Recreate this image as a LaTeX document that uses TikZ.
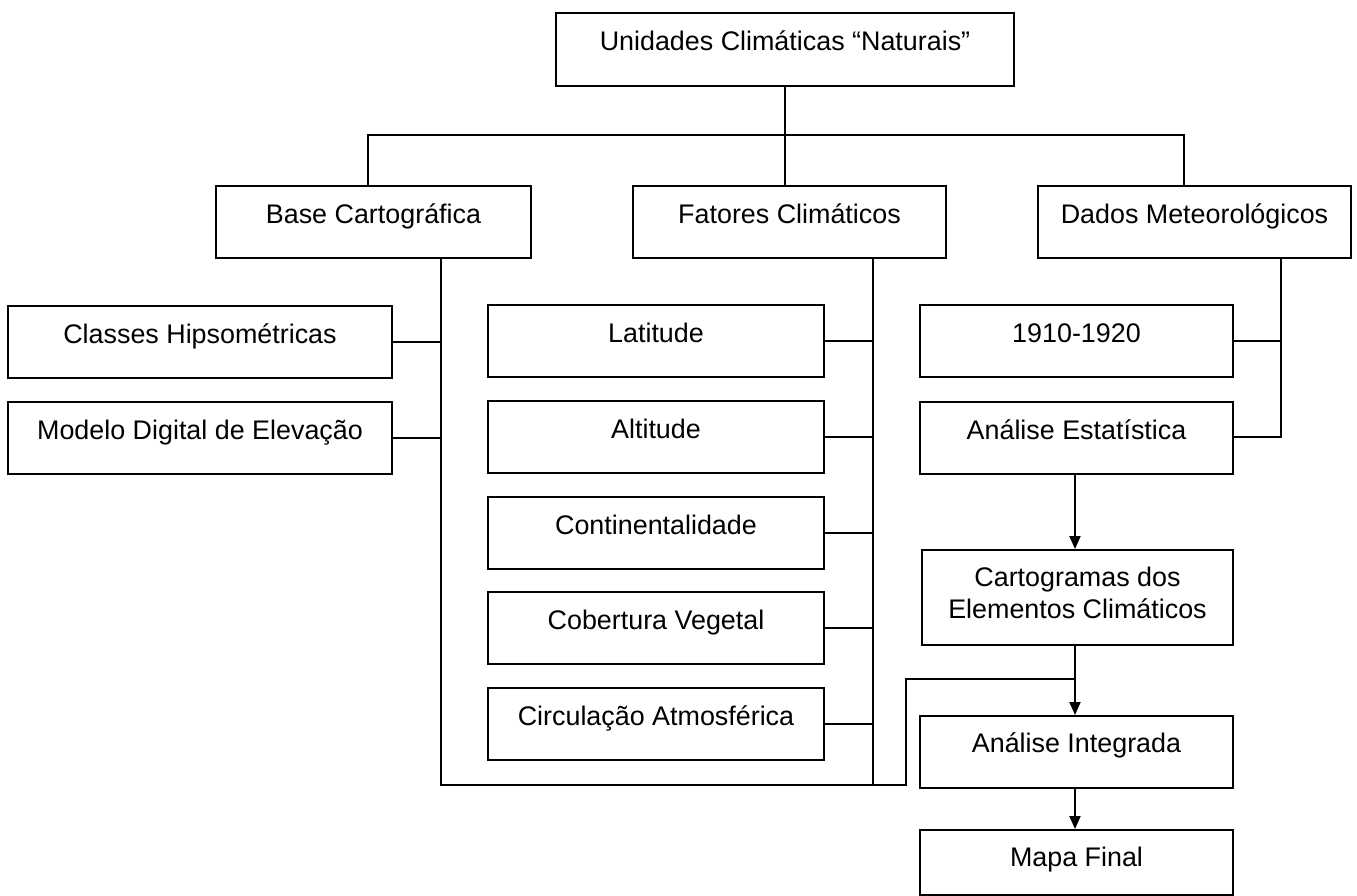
\documentclass[tikz,border=0pt]{standalone}
\usepackage{fontspec}
\setmainfont{Liberation Sans}
\usetikzlibrary{arrows.meta,calc}

\begin{document}
\begin{tikzpicture}[x=0.02cm, y=-0.02cm, >={Triangle[length=0.26cm,width=0.22cm]},
  every node/.style={font=\fontsize{15.3pt}{18pt}\selectfont},
  caixa/.style={draw, line width=1.1pt, anchor=north, minimum width=#1,
    inner xsep=2pt, inner ysep=0pt, text height=0.76cm, text depth=0.68cm},
  liga/.style={line width=1.1pt}]
\useasboundingbox (0,0) rectangle (1357,896);
% topo
\node[caixa=9.16cm, text height=0.76cm, text depth=0.70cm] (unid) at (785,12) {Unidades Climáticas “Naturais”};
% segundo nivel
\node[caixa=6.3cm]  (base)    at (373.5,185)  {Base Cartográfica};
\node[caixa=6.26cm] (fatores) at (789.5,185)  {Fatores Climáticos};
\node[caixa=6.26cm] (dados)   at (1194.5,185) {Dados Meteorológicos};
% base cartografica
\node[caixa=7.68cm] (classes) at (200,305) {Classes Hipsométricas};
\node[caixa=7.68cm] (modelo)  at (200,401) {Modelo Digital de Elevação};
% fatores climaticos
\node[caixa=6.72cm] (lat)  at (656,304) {Latitude};
\node[caixa=6.72cm] (alt)  at (656,400) {Altitude};
\node[caixa=6.72cm] (cont) at (656,496) {Continentalidade};
\node[caixa=6.72cm] (cob)  at (656,591) {Cobertura Vegetal};
\node[caixa=6.72cm] (circ) at (656,687) {Circulação Atmosférica};
% dados meteorologicos
\node[caixa=6.26cm] (anos)   at (1076.5,304) {1910-1920};
\node[caixa=6.26cm] (estat)  at (1076.5,401) {Análise Estatística};
\node[caixa=6.22cm, text height=0.74cm, text depth=1.16cm] (carto) at (1077.5,549)
  {\begin{tabular}[t]{@{}c@{}}Cartogramas dos\\Elementos Climáticos\end{tabular}};
\node[caixa=6.26cm, text height=0.74cm, text depth=0.70cm] (integ) at (1076.5,715) {Análise Integrada};
\node[caixa=6.26cm, text height=0.74cm, text depth=0.56cm] (mapa) at (1076.5,829) {Mapa Final};

\coordinate (jl) at (368,135);
\coordinate (jr) at (1184,135);
\coordinate (bt) at (441,785);
\coordinate (ft) at (873,785);
\coordinate (dt) at (1281,437);
\coordinate (vt) at (906,785);
\coordinate (vc) at (906,679);

\draw[liga] (unid.south) -- (unid.south |- fatores.north);
\draw[liga] (jl |- base.north) -- (jl) -- (jr) -- (jr |- dados.north);

\draw[liga] (bt |- base.south) -- (bt) -- (vt) -- (vc) -- (vc -| 1075,0);
\draw[liga] (classes.east) -- (classes.east -| bt);
\draw[liga] (modelo.east) -- (modelo.east -| bt);

\draw[liga] (ft |- fatores.south) -- (ft);
\foreach \n in {lat,alt,cont,cob,circ}
  \draw[liga] (\n.east) -- (\n.east -| ft);

\draw[liga] (dt |- dados.south) -- (dt) -- (dt -| estat.east);
\draw[liga] (anos.east) -- (anos.east -| dt);

\draw[liga,->] (1075,0 |- estat.south) -- (1075,0 |- carto.north);
\draw[liga,->] (1075,0 |- carto.south) -- (1075,0 |- integ.north);
\draw[liga,->] (1075,0 |- integ.south) -- (1075,0 |- mapa.north);
\end{tikzpicture}
\end{document}
